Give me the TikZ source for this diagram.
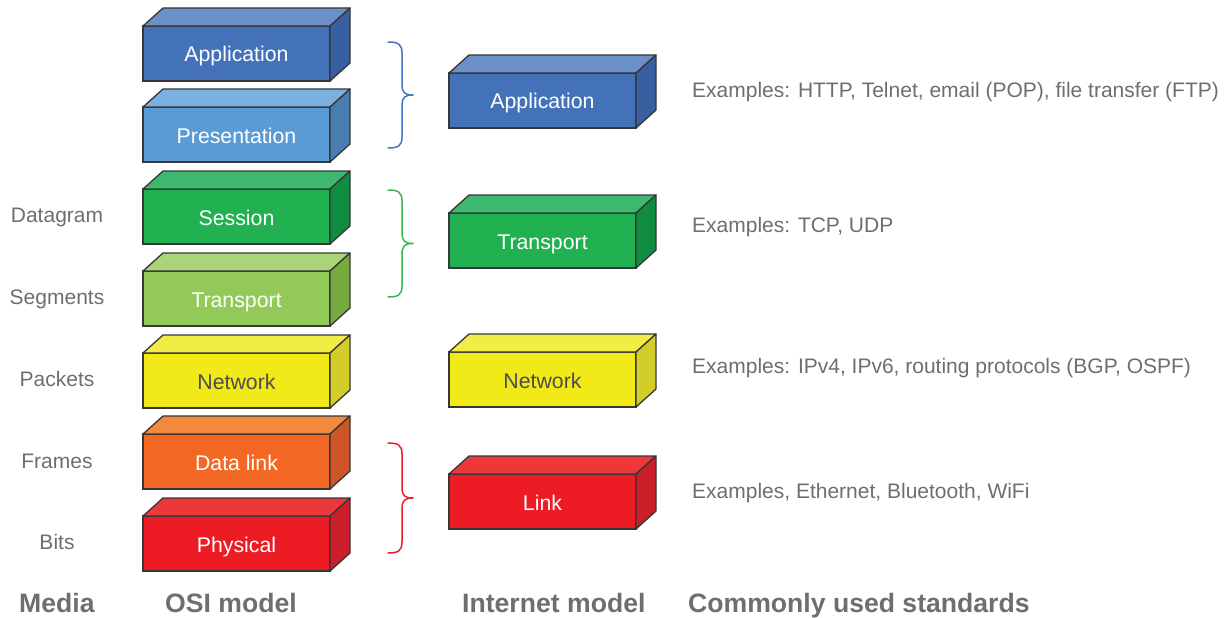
\documentclass[tikz,border=0pt]{standalone}
\usepackage{fontspec}
\setmainfont{Liberation Sans}
\definecolor{txtgray}{RGB}{109,110,113}
\definecolor{edgec}{RGB}{55,55,55}
\definecolor{appF}{RGB}{68,114,184}\definecolor{appT}{RGB}{106,143,201}\definecolor{appS}{RGB}{56,95,160}
\definecolor{presF}{RGB}{91,155,213}\definecolor{presT}{RGB}{123,176,224}\definecolor{presS}{RGB}{72,125,176}
\definecolor{sessF}{RGB}{33,177,80}\definecolor{sessT}{RGB}{60,185,110}\definecolor{sessS}{RGB}{16,140,65}
\definecolor{transF}{RGB}{147,201,86}\definecolor{transT}{RGB}{170,212,120}\definecolor{transS}{RGB}{118,170,62}
\definecolor{netF}{RGB}{241,233,24}\definecolor{netT}{RGB}{242,236,70}\definecolor{netS}{RGB}{210,205,40}
\definecolor{dlF}{RGB}{242,103,35}\definecolor{dlT}{RGB}{243,137,60}\definecolor{dlS}{RGB}{205,85,40}
\definecolor{phyF}{RGB}{237,28,36}\definecolor{phyT}{RGB}{237,56,58}\definecolor{phyS}{RGB}{204,30,40}
\definecolor{braceB}{RGB}{68,114,196}\definecolor{braceG}{RGB}{60,180,80}\definecolor{braceR}{RGB}{232,32,42}
\definecolor{nettext}{RGB}{77,77,77}
\tikzset{
  layer/.style={draw=edgec, line width=1.3pt, minimum width=187pt, minimum height=55pt,
    inner sep=0pt, outer sep=0pt, font=\fontsize{21.3}{21.3}\selectfont, text height=17pt, text depth=0pt},
  face/.style={draw=edgec, line width=1.3pt, line join=round},
  sidelabel/.style={anchor=base, text=txtgray, font=\fontsize{21}{21}\selectfont, inner sep=0pt},
  example/.style={anchor=base west, text=txtgray, font=\fontsize{21}{21}\selectfont, inner sep=0pt},
  heading/.style={anchor=base west, text=txtgray, font=\fontsize{26.6}{26.6}\selectfont\bfseries, inner sep=0pt},
  bracepath/.style={line width=1.5pt, line cap=round, line join=round}
}
% name, x, ytop, colour prefix, text, text colour
\newcommand\layerbox[6]{%
  \node[layer, fill=#4F, text=#6] (#1) at ({#2+93.5},{#3+27.5}) {#5};
  \draw[face, fill=#4T] (#1.north west) -- ++(20,-18) -- ++(187,0) -- (#1.north east) -- cycle;
  \draw[face, fill=#4S] (#1.north east) -- ++(20,-18) -- ++(0,55) -- (#1.south east) -- cycle;
}
% colour, ytop, ybottom
\newcommand\mybrace[3]{%
  \pgfmathsetmacro\ym{(#2+#3)/2}
  \draw[bracepath, #1] (388,#2) .. controls (398,#2) and (402,#2+2) .. (402,#2+11)
    -- (402,\ym-11) .. controls (402,\ym-2) and (405,\ym) .. (413,\ym)
    .. controls (405,\ym) and (402,\ym+2) .. (402,\ym+11)
    -- (402,#3-11) .. controls (402,#3-2) and (398,#3) .. (388,#3);
}
\begin{document}
\begin{tikzpicture}[x=1pt,y=-1pt]
\useasboundingbox (0,0) rectangle (1227,618);
% OSI model
\layerbox{osiapp}{143}{26}{app}{Application}{white}
\layerbox{osipres}{143}{107}{pres}{Presentation}{white}
\layerbox{osisess}{143}{189}{sess}{Session}{white}
\layerbox{ositrans}{143}{271}{trans}{Transport}{white}
\layerbox{osinet}{143}{353}{net}{Network}{nettext}
\layerbox{osidl}{143}{434}{dl}{Data link}{white}
\layerbox{osiphy}{143}{516}{phy}{Physical}{white}
% Internet model
\layerbox{inapp}{449}{73}{app}{Application}{white}
\layerbox{intrans}{449}{213}{sess}{Transport}{white}
\layerbox{innet}{449}{352}{net}{Network}{nettext}
\layerbox{inlink}{449}{474}{phy}{Link}{white}
% braces
\mybrace{braceB}{42}{148}
\mybrace{braceG}{190}{297}
\mybrace{braceR}{443}{553}
% media labels
\node[sidelabel] (ldatagram) at (57,222) {Datagram};
\node[sidelabel] (lsegments) at (57,304) {Segments};
\node[sidelabel] (lpackets) at (57,386) {Packets};
\node[sidelabel] (lframes) at (57,468) {Frames};
\node[sidelabel] (lbits) at (57,549) {Bits};
% examples
\node[example] (exapp) at (692,97) {Examples: HTTP, Telnet, email (POP), file transfer (FTP)};
\node[example] (extrans) at (692,232) {Examples: TCP, UDP};
\node[example] (exnet) at (692,373) {Examples: IPv4, IPv6, routing protocols (BGP, OSPF)};
\node[example] (exlink) at (692,498) {Examples, Ethernet, Bluetooth, WiFi};
% headings
\node[heading] (hmedia) at (19,612) {Media};
\node[heading] (hosi) at (165,612) {OSI model};
\node[heading] (hinet) at (462,612) {Internet model};
\node[heading] (hstd) at (688,612) {Commonly used standards};
\end{tikzpicture}
\end{document}
